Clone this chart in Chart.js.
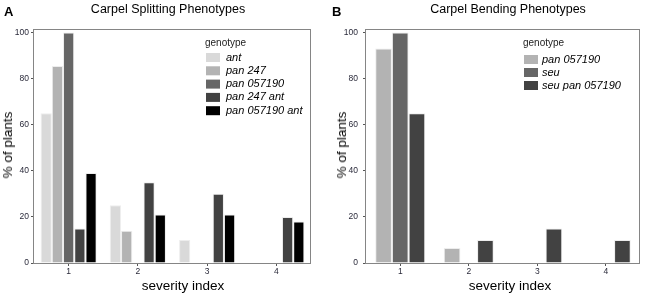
<!DOCTYPE html>
<html>
<head>
<meta charset="utf-8">
<script src="https://cdn.jsdelivr.net/npm/chart.js@4.4.0/dist/chart.umd.min.js"></script>
<style>
body { margin: 0; background: #fff; font-family: "Liberation Sans", Arial, sans-serif; }
#wrap { position: relative; width: 645px; height: 295px; overflow: hidden; }
canvas { position: absolute; top: 0; }
.t { position: absolute; white-space: nowrap; color: #000; line-height: 16px; }
.letter { font-weight: bold; font-size: 13px; }
.title { font-size: 12.5px; transform: translateX(-50%); }
.xt { font-size: 13.5px; transform: translateX(-50%); }
.yt { font-size: 13.5px; transform: translate(-50%, -50%) rotate(-90deg); }
</style>
</head>
<body>
<div id="wrap">
  <canvas id="chartA" width="320" height="295" style="left:0"></canvas>
  <canvas id="chartB" width="323" height="295" style="left:322px"></canvas>

  <div class="t letter" style="left:4px;top:4px">A</div>
  <div class="t title" style="left:168px;top:1px">Carpel Splitting Phenotypes</div>
  <div class="t xt" style="left:183px;top:278px">severity index</div>
  <div class="t yt" style="left:8px;top:145px">% of plants</div>

  <div class="t letter" style="left:332px;top:4px">B</div>
  <div class="t title" style="left:508px;top:1px">Carpel Bending Phenotypes</div>
  <div class="t xt" style="left:510px;top:278px">severity index</div>
  <div class="t yt" style="left:342px;top:145px">% of plants</div>
</div>
<script>
// severity index categories
var severity = ['1', '2', '3', '4'];
var yTicks = [0, 20, 40, 60, 80, 100];

// panel A - carpel splitting (% of plants)
var namesA = ['ant', 'pan 247', 'pan 057190', 'pan 247 ant', 'pan 057190 ant'];
var coloursA = ['#d9d9d9', '#b3b3b3', '#666666', '#424242', '#000000'];
var antA = [65, 25, 10, 0];
var pan247A = [85.5, 14, 0, 0];
var pan057190A = [100, 0, 0, 0];
var pan247antA = [15, 35, 30, 20];
var pan057190antA = [39, 21, 21, 18];

// panel B - carpel bending (% of plants)
var namesB = ['pan 057190', 'seu', 'seu pan 057190'];
var coloursB = ['#b3b3b3', '#666666', '#424242'];
var pan057190B = [93, 6.5, 0, 0];
var seuB = [100, 0, 0, 0];
var seuPan057190B = [65, 10, 15, 10];

// legend drawn inside the panel, like the ggplot one
var genoLegend = {
    id: 'genoLegend',
    afterDraw: function(chart, args, o) {
        var ctx = chart.ctx;
        ctx.save();
        ctx.textBaseline = 'middle';
        ctx.font = '10px "Liberation Sans", Arial';
        ctx.fillStyle = '#222';
        ctx.fillText('genotype', o.x, o.y);
        chart.data.datasets.forEach(function(d, i) {
            var top = o.y + o.first + i * o.step;
            ctx.fillStyle = d.backgroundColor;
            ctx.fillRect(o.x + 1, top, 14, 9);
            ctx.fillStyle = '#000';
            ctx.font = 'italic 11px "Liberation Sans", Arial';
            ctx.fillText(d.label, o.tx, top + 4.5);
        });
        ctx.restore();
    }
};

var frame = {
    id: 'frame',
    afterDraw: function(chart) {
        var a = chart.chartArea, ctx = chart.ctx;
        ctx.save();
        ctx.strokeStyle = '#858585';
        ctx.lineWidth = 1;
        ctx.strokeRect(Math.round(a.left) - 0.5, Math.round(a.top) + 0.5,
            Math.round(a.right - a.left), Math.round(a.bottom - a.top));
        ctx.restore();
    }
};

function make_chart(id, names, colours, series, catPct, yWidth, padRight, tickPad, legendOpts) {
    var datasets = [];
    for (var i = 0; i < names.length; i++) {
        datasets.push({
            label: names[i],
            data: series[i],
            backgroundColor: colours[i],
            borderColor: 'rgba(235,235,235,0.9)',
            borderWidth: function(c) { return c.raw ? 1 : 0; },
            borderSkipped: 'bottom',
            barPercentage: 1,
            categoryPercentage: catPct
        });
    }
    return new Chart(document.getElementById(id), {
        type: 'bar',
        data: { labels: severity, datasets: datasets },
        plugins: [genoLegend, frame],
        options: {
            responsive: false,
            animation: false,
            layout: { padding: { top: 29, right: padRight, left: 0, bottom: 0 } },
            plugins: {
                legend: { display: false },
                tooltip: { enabled: false },
                genoLegend: legendOpts
            },
            scales: {
                x: {
                    grid: { offset: false, drawOnChartArea: false, tickLength: 3, color: '#555' },
                    border: { display: false },
                    ticks: { font: { size: 8.5, family: '"Liberation Sans", Arial' }, color: '#2a2a3a', padding: 1, maxRotation: 0 },
                    afterFit: function(s) { s.height = 32; }
                },
                y: {
                    min: 0,
                    max: 101.5,
                    afterBuildTicks: function(s) {
                        s.ticks = yTicks.map(function(v) { return { value: v }; });
                    },
                    grid: { drawOnChartArea: false, tickLength: 3, color: '#555' },
                    border: { display: false },
                    ticks: { font: { size: 8.5, family: '"Liberation Sans", Arial' }, color: '#2a2a3a', padding: tickPad },
                    afterFit: function(s) { s.width = yWidth; }
                }
            }
        }
    });
}

make_chart('chartA', namesA, coloursA, [antA, pan247A, pan057190A, pan247antA, pan057190antA],
    0.81, 34, 9, 2, { x: 205, y: 43, first: 10, step: 13.3, tx: 226 });
make_chart('chartB', namesB, coloursB, [pan057190B, seuB, seuPan057190B],
    0.73, 44, 5, 5, { x: 201, y: 43, first: 12, step: 13, tx: 220 });
</script>
</body>
</html>
